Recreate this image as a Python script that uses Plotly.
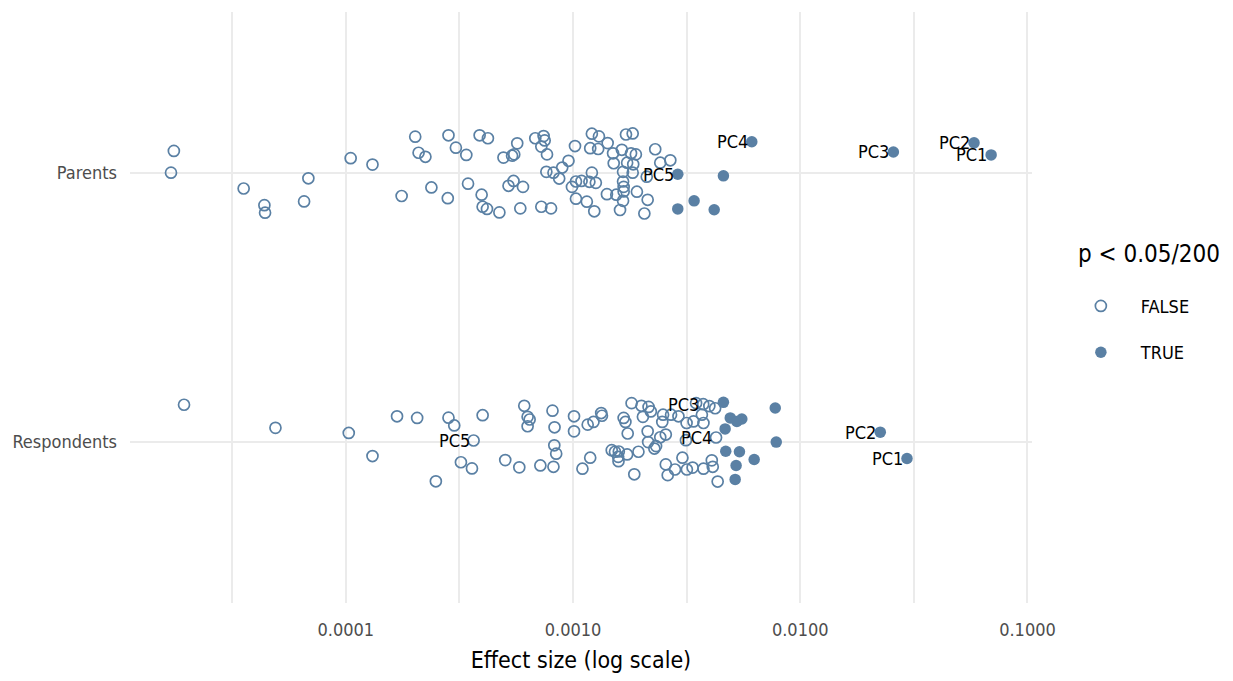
import math
import plotly.graph_objects as go

# ---------------- data ----------------
categories = ["Respondents", "Parents"]
tick_vals_x = [1e-4, 1e-3, 1e-2, 1e-1]
tick_text_x = ["0.0001", "0.0010", "0.0100", "0.1000"]
minor_vals_x = [10 ** -4.5, 10 ** -3.5, 10 ** -2.5, 10 ** -1.5]

# Parents: effect size, vertical jitter (offset from category), significant flag, label
parents_effect = [
    1.75e-5, 1.70e-5, 3.55e-5, 4.38e-5, 4.41e-5, 6.84e-5, 6.55e-5, 1.05e-4, 1.31e-4, 2.02e-4,
    2.09e-4, 2.24e-4, 1.76e-4, 2.38e-4, 2.83e-4, 2.81e-4, 3.88e-4, 4.22e-4, 3.05e-4, 3.39e-4,
    5.68e-4, 4.94e-4, 5.39e-4, 5.51e-4, 6.82e-4, 7.42e-4, 7.50e-4, 7.25e-4, 7.68e-4, 1.02e-3,
    1.21e-3, 1.30e-3, 1.19e-3, 1.29e-3, 1.42e-3, 1.50e-3, 1.64e-3, 1.71e-3, 1.83e-3, 1.80e-3,
    1.89e-3, 1.51e-3, 1.73e-3, 1.84e-3, 2.30e-3, 2.42e-3, 2.68e-3, 9.55e-4, 8.96e-4, 7.63e-4,
    8.20e-4, 8.69e-4, 1.21e-3, 1.66e-3, 1.83e-3, 2.11e-3, 3.45e-4, 5.20e-4, 5.47e-4, 6.02e-4,
    3.96e-4, 4.00e-4, 4.18e-4, 4.74e-4, 5.86e-4, 7.25e-4, 8.00e-4, 9.89e-4, 1.03e-3, 1.09e-3,
    1.18e-3, 1.26e-3, 1.03e-3, 1.15e-3, 1.24e-3, 1.41e-3, 1.55e-3, 1.66e-3, 1.67e-3, 1.67e-3,
    1.66e-3, 1.61e-3, 1.91e-3, 2.13e-3, 2.06e-3,
    2.89e-3, 4.59e-3, 2.89e-3, 3.41e-3, 4.18e-3, 6.12e-3, 2.57e-2, 5.82e-2, 6.92e-2,
]
parents_jitter = [
    0.083, 0.002, -0.057, -0.119, -0.147, -0.019, -0.105, 0.056, 0.032, 0.136,
    0.076, 0.061, -0.085, -0.053, 0.141, -0.093, 0.141, 0.130, 0.095, 0.068,
    0.111, 0.058, 0.065, 0.070, 0.130, 0.138, 0.122, 0.099, 0.070, 0.101,
    0.147, 0.137, 0.093, 0.090, 0.112, 0.074, 0.087, 0.144, 0.148, 0.074,
    0.070, 0.037, 0.039, 0.033, 0.089, 0.039, 0.048, 0.046, 0.021, 0.005,
    0.002, -0.020, 0.002, 0.005, 0.002, -0.013, -0.039, -0.047, -0.029, -0.051,
    -0.080, -0.125, -0.133, -0.146, -0.131, -0.125, -0.131, -0.051, -0.031, -0.029,
    -0.032, -0.036, -0.095, -0.106, -0.142, -0.078, -0.080, -0.031, -0.051, -0.068,
    -0.103, -0.137, -0.069, -0.099, -0.150,
    -0.004, -0.010, -0.133, -0.103, -0.136, 0.117, 0.079, 0.113, 0.068,
]
parents_sig = [False] * 85 + [True] * 9
parents_label = [""] * 85 + ["PC5", "", "", "", "", "PC4", "PC3", "PC2", "PC1"]

# Respondents
respondents_effect = [
    1.94e-5, 4.90e-5, 1.03e-4, 1.31e-4, 1.68e-4, 2.06e-4, 2.49e-4, 2.83e-4, 3.00e-4, 3.65e-4,
    4.00e-4, 3.21e-4, 3.59e-4, 5.03e-4, 5.80e-4, 6.10e-4, 6.31e-4, 6.44e-4, 6.31e-4, 8.12e-4,
    8.29e-4, 8.27e-4, 8.43e-4, 7.18e-4, 8.20e-4, 1.01e-3, 1.01e-3, 1.16e-3, 1.23e-3, 1.33e-3,
    1.34e-3, 1.10e-3, 1.19e-3, 1.48e-3, 1.53e-3, 1.59e-3, 1.58e-3, 1.585e-3, 1.73e-3, 1.67e-3,
    1.70e-3, 1.74e-3, 1.81e-3, 2.00e-3, 2.15e-3, 2.20e-3, 2.03e-3, 2.13e-3, 2.14e-3, 1.94e-3,
    1.86e-3, 2.28e-3, 2.32e-3, 2.42e-3, 2.56e-3, 2.49e-3, 2.47e-3, 2.70e-3, 2.91e-3, 3.16e-3,
    3.39e-3, 3.69e-3, 3.75e-3, 4.26e-3, 3.14e-3, 3.03e-3, 2.56e-3, 2.61e-3, 2.81e-3, 3.17e-3,
    3.36e-3, 3.75e-3, 4.08e-3, 4.12e-3, 4.33e-3, 3.48e-3, 3.74e-3, 3.98e-3, 4.22e-3,
    4.59e-3, 7.76e-3, 4.92e-3, 5.53e-3, 5.26e-3, 4.67e-3, 7.84e-3, 4.70e-3, 5.40e-3, 6.27e-3,
    5.22e-3, 5.17e-3, 2.25e-2, 2.95e-2,
]
respondents_jitter = [
    0.138, 0.052, 0.033, -0.053, 0.095, 0.089, -0.147, 0.090, 0.061, 0.005,
    0.099, -0.076, -0.099, -0.068, -0.095, 0.134, 0.093, 0.083, 0.058, 0.116,
    0.054, -0.013, -0.044, -0.088, -0.093, 0.095, 0.039, 0.064, 0.074, 0.107,
    0.097, -0.100, -0.059, -0.031, -0.037, -0.036, -0.056, -0.072, -0.047, 0.089,
    0.074, 0.031, 0.144, 0.134, 0.130, 0.113, 0.093, 0.039, -0.001, -0.037,
    -0.121, -0.025, -0.016, 0.017, 0.027, 0.101, 0.074, 0.101, 0.095, 0.070,
    0.076, 0.101, 0.070, 0.016, 0.006, -0.059, -0.084, -0.124, -0.103, -0.103,
    -0.096, -0.100, -0.069, -0.093, -0.148, 0.144, 0.140, 0.133, 0.125,
    0.147, 0.126, 0.089, 0.085, 0.076, 0.048, -0.001, -0.035, -0.037, -0.066,
    -0.088, -0.140, 0.036, -0.062,
]
respondents_sig = [False] * 79 + [True] * 14
respondents_label = [""] * 93
respondents_label[9] = "PC5"
respondents_label[63] = "PC4"
respondents_label[76] = "PC3"
respondents_label[91] = "PC2"
respondents_label[92] = "PC1"

legend_title = "p &lt; 0.05/200"

# ---------------- build ----------------
POINT = "#5a80a4"
FONT = "DejaVu Sans Condensed, Liberation Sans Narrow, DejaVu Sans, sans-serif"

groups = [
    (2, parents_effect, parents_jitter, parents_sig, parents_label),
    (1, respondents_effect, respondents_jitter, respondents_sig, respondents_label),
]

xs = {False: [], True: []}
ys = {False: [], True: []}
annotations = []
for cat, eff, jit, sig, lab in groups:
    for e, j, s, l in zip(eff, jit, sig, lab):
        xs[s].append(e)
        ys[s].append(cat + j)
        if l:
            annotations.append(dict(
                x=math.log10(e), y=cat + j, text=l, showarrow=False,
                xanchor="right", yanchor="middle", xshift=-2,
                font=dict(family=FONT, size=18, color="black"),
            ))

# legend title as a separate text block
annotations.append(dict(
    x=1.049, y=0.5905, xref="paper", yref="paper", xanchor="left", yanchor="middle",
    text=legend_title, showarrow=False, font=dict(family=FONT, size=24, color="black"),
))

fig = go.Figure()
fig.add_trace(go.Scatter(
    x=xs[False], y=ys[False], mode="markers", name="FALSE", legendgroup="a",
    marker=dict(symbol="circle-open", size=11, color=POINT, line=dict(width=1.7, color=POINT)),
))
fig.add_trace(go.Scatter(
    x=xs[True], y=ys[True], mode="markers", name="TRUE", legendgroup="b",
    marker=dict(symbol="circle", size=11.5, color=POINT, line=dict(width=0)),
))

fig.update_layout(
    width=1233, height=681,
    margin=dict(l=130, r=201, t=12, b=78),
    paper_bgcolor="white", plot_bgcolor="white",
    font=dict(family=FONT, size=18, color="black"),
    annotations=annotations,
    legend=dict(
        x=1.032, xanchor="left", y=0.5335, yanchor="top",
        font=dict(size=18, color="black"),
        tracegroupgap=20, itemwidth=70,
    ),
    showlegend=True,
)
fig.update_xaxes(
    type="log", range=[-4.95, -0.98],
    tickvals=tick_vals_x, ticktext=tick_text_x,
    tickfont=dict(size=18, color="#4d4d4d"),
    showgrid=True, gridcolor="#ebebeb", gridwidth=2,
    minor=dict(tickvals=minor_vals_x, showgrid=True, gridcolor="#ebebeb", gridwidth=1.5, ticks=""),
    zeroline=False, showline=False, ticks="",
    ticklabelstandoff=14,
    title=dict(text="Effect size (log scale)", font=dict(size=23, color="black"), standoff=12),
)
fig.update_yaxes(
    range=[0.4, 2.6], tickvals=[1, 2], ticktext=categories,
    tickfont=dict(size=18, color="#4d4d4d"),
    showgrid=True, gridcolor="#ebebeb", gridwidth=2,
    zeroline=False, showline=False, ticks="", ticklabelstandoff=12,
)

fig.write_html("out.html")
